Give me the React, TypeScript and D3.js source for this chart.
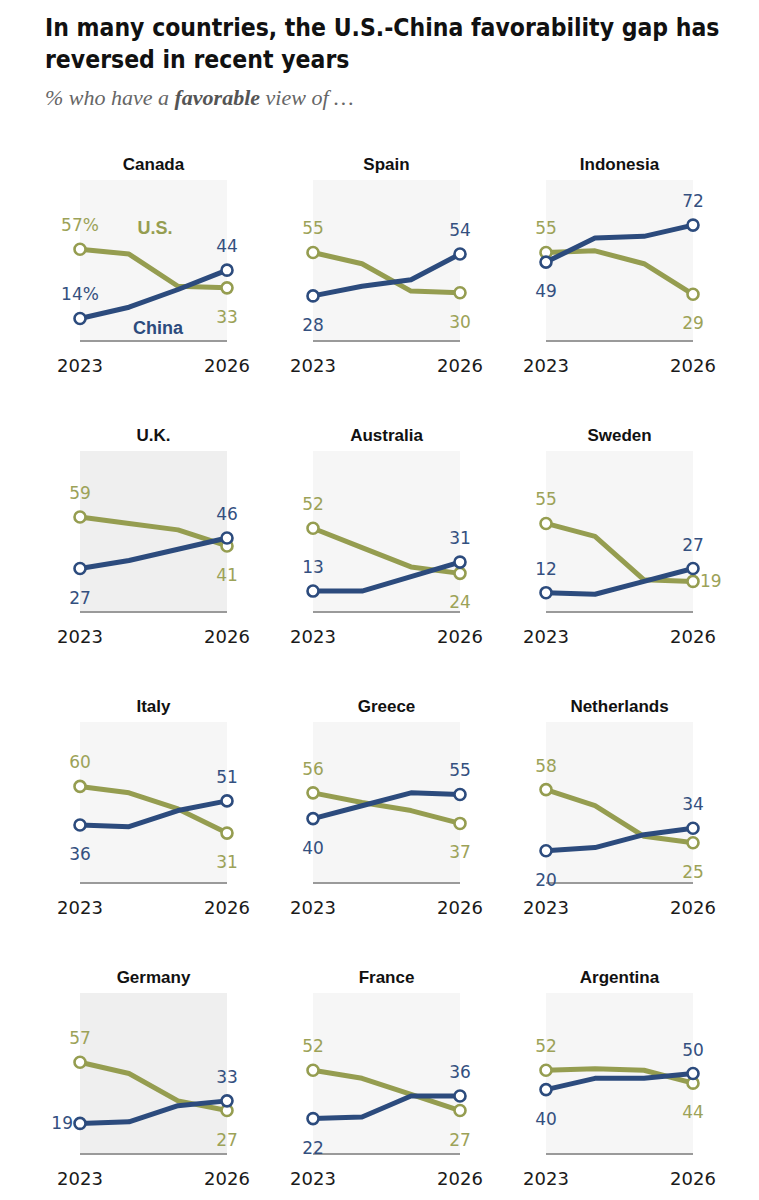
import React from "react";
import * as d3 from "d3";

const titleLines = [
  "In many countries, the U.S.-China favorability gap has",
  "reversed in recent years",
];
const countries = [
  "Canada", "Spain", "Indonesia",
  "U.K.", "Australia", "Sweden",
  "Italy", "Greece", "Netherlands",
  "Germany", "France", "Argentina",
];
const years = ["2023", "2024", "2025", "2026"];
const tickLabels = ["2023", "2026"];
const usFavorable = [
  [57, 54, 34, 33],
  [55, 48, 31, 30],
  [55, 56, 48, 29],
  [59, 55, 51, 41],
  [52, 40, 28, 24],
  [55, 47, 20, 19],
  [60, 56, 46, 31],
  [56, 50, 45, 37],
  [58, 48, 29, 25],
  [57, 50, 33, 27],
  [52, 47, 37, 27],
  [52, 53, 52, 44],
];
const chinaFavorable = [
  [14, 21, 32, 44],
  [28, 34, 38, 54],
  [49, 64, 65, 72],
  [27, 32, 39, 46],
  [13, 13, 22, 31],
  [12, 11, 19, 27],
  [36, 35, 45, 51],
  [40, 48, 56, 55],
  [20, 22, 30, 34],
  [19, 20, 30, 33],
  [22, 23, 36, 36],
  [40, 47, 47, 50],
];
// label sides: [usStart, usEnd, chinaStart, chinaEnd]
const labelSides = [
  ["above", "below", "above", "above"],
  ["above", "below", "below", "above"],
  ["above", "below", "below", "above"],
  ["above", "below", "below", "above"],
  ["above", "below", "above", "above"],
  ["above", "right", "above", "above"],
  ["above", "below", "below", "above"],
  ["above", "below", "below", "above"],
  ["above", "below", "below", "above"],
  ["above", "below", "left", "above"],
  ["above", "below", "below", "above"],
  ["above", "below", "below", "above"],
];
const darkerPanels = ["U.K.", "Germany"];

const US_COLOR = "#959d50";
const CN_COLOR = "#2c4b7d";
const US_TEXT = "#9ca258";
const CN_TEXT = "#34507f";

const PANEL_W = 147;
const PANEL_H = 161;
const COL_X0 = 80;
const COL_STEP = 233;
const ROW_AXIS0 = 341;
const ROW_STEP = 271;

const numFont = "'DejaVu Sans', Verdana, sans-serif";
const boldFont = "'Liberation Sans', Arial, sans-serif";

function Label({ x, y, side, text, color }: { x: number; y: number; side: string; text: string; color: string }) {
  let tx = x, ty = y, anchor = "middle";
  if (side === "above") ty = y - 18;
  else if (side === "below") ty = y + 35;
  else if (side === "right") { tx = x + 7; ty = y + 6; anchor = "start"; }
  else if (side === "left") { tx = x - 7; ty = y + 6; anchor = "end"; }
  return (
    <text x={tx} y={ty} textAnchor={anchor} fill={color} fontFamily={numFont} fontSize={17}>
      {text}
    </text>
  );
}

function Panel({ idx }: { idx: number }) {
  const row = Math.floor(idx / 3);
  const col = idx % 3;
  const x0 = COL_X0 + col * COL_STEP;
  const axisY = ROW_AXIS0 + row * ROW_STEP;
  const x = d3.scalePoint<string>().domain(years).range([x0, x0 + PANEL_W]);
  const y = d3.scaleLinear().domain([0, 100]).range([axisY, axisY - PANEL_H]);
  const line = d3
    .line<number>()
    .x((_, i) => x(years[i]) as number)
    .y((d) => y(d));
  const us = usFavorable[idx];
  const cn = chinaFavorable[idx];
  const sides = labelSides[idx];
  const name = countries[idx];
  const first = idx === 0;
  const bg = darkerPanels.includes(name) ? "#efefef" : "#f6f6f6";
  const last = years.length - 1;
  const series = [
    { vals: us, color: US_COLOR, text: US_TEXT, s0: sides[0], s1: sides[1] },
    { vals: cn, color: CN_COLOR, text: CN_TEXT, s0: sides[2], s1: sides[3] },
  ];
  return (
    <g>
      <rect x={x0} y={axisY - PANEL_H} width={PANEL_W} height={PANEL_H} fill={bg} />
      <line x1={x0} x2={x0 + PANEL_W} y1={axisY} y2={axisY} stroke="#9a9a9a" strokeWidth={2} />
      <text
        x={x0 + PANEL_W / 2}
        y={axisY - PANEL_H - 10}
        textAnchor="middle"
        fontFamily={boldFont}
        fontWeight="bold"
        fontSize={17}
        fill="#111"
      >
        {name}
      </text>
      {tickLabels.map((t) => (
        <text
          key={t}
          x={x(t) as number}
          y={axisY + 31}
          textAnchor="middle"
          fontFamily={numFont}
          fontSize={18}
          fill="#1a1a1a"
        >
          {t}
        </text>
      ))}
      {series.map((s, si) => (
        <g key={si}>
          <path d={line(s.vals) || ""} fill="none" stroke={s.color} strokeWidth={5} strokeLinejoin="round" />
          {[0, last].map((i) => (
            <circle key={i} cx={x(years[i]) as number} cy={y(s.vals[i])} r={5.5} fill="#fff" stroke={s.color} strokeWidth={2.6} />
          ))}
        </g>
      ))}
      {series.map((s, si) => (
        <g key={"l" + si}>
          <Label x={x(years[0]) as number} y={y(s.vals[0])} side={s.s0} text={first ? s.vals[0] + "%" : String(s.vals[0])} color={s.text} />
          <Label x={x(years[last]) as number} y={y(s.vals[last])} side={s.s1} text={String(s.vals[last])} color={s.text} />
        </g>
      ))}
      {first && (
        <g fontFamily={boldFont} fontWeight="bold" fontSize={18}>
          <text x={x0 + 75} y={234} textAnchor="middle" fill={US_COLOR}>U.S.</text>
          <text x={x0 + 78} y={334} textAnchor="middle" fill={CN_COLOR}>China</text>
        </g>
      )}
    </g>
  );
}

export default function App() {
  return (
    <svg
      width={759}
      height={1200}
      style={{ position: "absolute", left: 0, top: 0, background: "#fff" }}
    >
      <rect width={759} height={1200} fill="#fff" />
      <g fontFamily="'DejaVu Sans Condensed', 'DejaVu Sans', sans-serif" fontStretch="condensed" fontWeight="bold" fontSize={24.5} fill="#111">
        <text x={45} y={36}>{titleLines[0]}</text>
        <text x={45} y={68}>{titleLines[1]}</text>
      </g>
      <text x={45} y={105} fontFamily="'Liberation Serif', Georgia, serif" fontStyle="italic" fontSize={22} fill="#666">
        % who have a <tspan fontWeight="bold" fill="#555">favorable</tspan> view of …
      </text>
      {countries.map((_, i) => (
        <Panel key={i} idx={i} />
      ))}
    </svg>
  );
}
